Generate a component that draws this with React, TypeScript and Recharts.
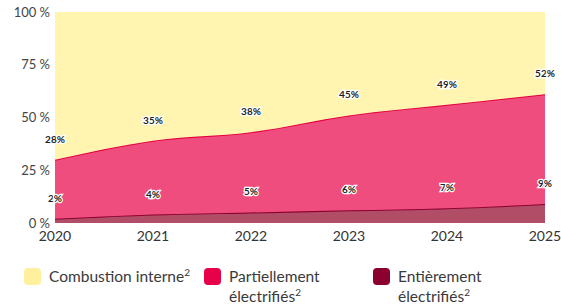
import { AreaChart, Area, XAxis, YAxis, LabelList } from "recharts";

const years = ["2020", "2021", "2022", "2023", "2024", "2025"];
const entierement = [2, 4, 5, 6, 7, 9];
const partiellement = [28, 35, 38, 45, 49, 52];
const combustion = [70, 61, 57, 49, 44, 39];
const yTicks = [0, 25, 50, 75, 100];

const data = years.map((year, i) => ({
  year,
  full: entierement[i],
  partial: partiellement[i],
  ice: combustion[i],
}));

const legendItems = [
  { label: "Combustion interne", second: "", color: "#FFF09E", left: 24 },
  { label: "Partiellement", second: "électrifiés", color: "#E8004A", left: 204 },
  { label: "Entièrement", second: "électrifiés", color: "#8C0030", left: 373 },
];

function makeLabel(values: number[]) {
  return (props: any) => {
    const { x, y, index } = props;
    return (
      <text
        x={x}
        y={y - 17}
        textAnchor="middle"
        fontSize={10}
        fontWeight={700}
        fill="#222"
        stroke="#fff"
        strokeWidth={2.5}
        paintOrder="stroke"
        fontFamily="Lato, sans-serif"
      >
        {values[index]}%
      </text>
    );
  };
}

export default function App() {
  return (
    <div style={{ position: "relative", width: 561, height: 305, fontFamily: "Lato, sans-serif" }}>
      <style>{"body{margin:0}"}</style>
      <AreaChart width={561} height={251} data={data} margin={{ top: 12, right: 16, left: 0, bottom: 0 }}>
        <XAxis
          dataKey="year"
          axisLine={false}
          tickLine={false}
          height={28}
          tick={{ fontSize: 14, fill: "#333" }}
        />
        <YAxis
          width={55}
          domain={[0, 100]}
          ticks={yTicks}
          axisLine={false}
          tickLine={false}
          tickSize={3}
          tickMargin={2}
          tickFormatter={(v) => `${v} %`}
          tick={{ fontSize: 13, fill: "#444" }}
        />
        <Area
          type="monotone"
          dataKey="full"
          stackId="a"
          fill="#B14D66"
          fillOpacity={1}
          stroke="#8B002F"
          strokeWidth={2}
          isAnimationActive={false}
        >
          <LabelList dataKey="full" content={makeLabel(entierement)} />
        </Area>
        <Area
          type="monotone"
          dataKey="partial"
          stackId="a"
          fill="#EE4D7D"
          fillOpacity={1}
          stroke="#E3003E"
          strokeWidth={2}
          isAnimationActive={false}
        >
          <LabelList dataKey="partial" content={makeLabel(partiellement)} />
        </Area>
        <Area
          type="monotone"
          dataKey="ice"
          stackId="a"
          fill="#FFF4B0"
          fillOpacity={1}
          stroke="none"
          isAnimationActive={false}
        />
      </AreaChart>
      {legendItems.map((item) => (
        <div
          key={item.label}
          style={{ position: "absolute", left: item.left, top: 268, display: "flex", color: "#3a3a3a", fontSize: 15.5 }}
        >
          <div style={{ width: 17, height: 17, borderRadius: 4, background: item.color, marginRight: 8 }} />
          <div style={{ lineHeight: "20px", marginTop: -2 }}>
            {item.label}
            {item.second ? (
              <>
                <br />
                {item.second}
              </>
            ) : null}
            <sup style={{ fontSize: 10, lineHeight: 0 }}>2</sup>
          </div>
        </div>
      ))}
    </div>
  );
}
